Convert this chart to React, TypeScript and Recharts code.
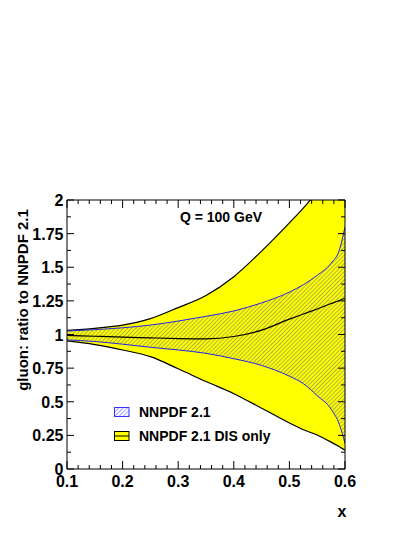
import React from 'react';
import { ComposedChart, Area, Line, XAxis, YAxis } from 'recharts';

// x values of the sampled curves
const xValues = [0.1, 0.15, 0.2, 0.25, 0.3, 0.35, 0.4, 0.45, 0.5, 0.525, 0.55, 0.575, 0.59, 0.6];
// NNPDF 2.1 DIS only band (yellow)
const disUpper = [1.03, 1.046, 1.07, 1.118, 1.2, 1.29, 1.43, 1.62, 1.83, 1.94, 2.06, 2.19, 2.27, 2.32];
const disLower = [0.952, 0.925, 0.885, 0.835, 0.745, 0.65, 0.56, 0.452, 0.342, 0.292, 0.253, 0.2, 0.165, 0.14];
const disCentral = [0.994, 0.987, 0.98, 0.975, 0.97, 0.968, 0.985, 1.032, 1.114, 1.152, 1.19, 1.23, 1.253, 1.27];
// NNPDF 2.1 band (hatched)
const nnUpper = [1.026, 1.036, 1.05, 1.07, 1.1, 1.135, 1.175, 1.235, 1.315, 1.37, 1.44, 1.53, 1.63, 1.8];
const nnLower = [0.96, 0.948, 0.928, 0.905, 0.885, 0.86, 0.82, 0.77, 0.69, 0.635, 0.545, 0.445, 0.33, 0.19];

const xMajorTicks = [0.1, 0.2, 0.3, 0.4, 0.5, 0.6];
const xMinorTicks = [0.12, 0.14, 0.16, 0.18, 0.22, 0.24, 0.26, 0.28, 0.32, 0.34, 0.36, 0.38, 0.42, 0.44, 0.46, 0.48, 0.52, 0.54, 0.56, 0.58];
const yMajorTicks = [0, 0.25, 0.5, 0.75, 1, 1.25, 1.5, 1.75, 2];
const yMinorTicks = [0.125, 0.375, 0.625, 0.875, 1.125, 1.375, 1.625, 1.875];

const xAllTicks = [...xMajorTicks, ...xMinorTicks];
const yAllTicks = [...yMajorTicks, ...yMinorTicks];

const data = xValues.map((x, i) => ({
  x,
  dis: [disLower[i], disUpper[i]],
  nn: [nnLower[i], nnUpper[i]],
  central: disCentral[i],
}));

const FONT = '"Liberation Sans", Arial, Helvetica, sans-serif';

// ROOT style ticks: drawn inward, major longer than minor
const makeTick = (side: 'bottom' | 'top' | 'left' | 'right', majors: number[]) => (props: any) => {
  const { x, y, payload } = props;
  const isMajor = majors.includes(payload.value);
  const len = isMajor ? (side === 'left' || side === 'right' ? 7 : 8) : 4;
  let line;
  if (side === 'bottom') line = <line x1={x} x2={x} y1={y} y2={y - len} stroke="#000" />;
  else if (side === 'top') line = <line x1={x} x2={x} y1={y} y2={y + len} stroke="#000" />;
  else if (side === 'left') line = <line x1={x} x2={x + len} y1={y} y2={y} stroke="#000" />;
  else line = <line x1={x} x2={x - len} y1={y} y2={y} stroke="#000" />;
  let label = null;
  if (isMajor && side === 'bottom') {
    label = (
      <text x={x} y={y + 18} textAnchor="middle" style={{ fontFamily: FONT, fontSize: 16, fontWeight: 'bold' }}>
        {payload.value}
      </text>
    );
  } else if (isMajor && side === 'left') {
    label = (
      <text x={x - 3.5} y={y + 6} textAnchor="end" style={{ fontFamily: FONT, fontSize: 16, fontWeight: 'bold' }}>
        {payload.value}
      </text>
    );
  }
  return (
    <g>
      {line}
      {label}
    </g>
  );
};

const App: React.FC = () => {
  return (
    <div style={{ position: 'absolute', left: 0, top: 0, width: 415, height: 537, background: '#fff' }}>
      <ComposedChart width={415} height={537} data={data} margin={{ top: 199, right: 69, bottom: 28, left: 7 }}>
        <defs>
          <pattern id="hatch" patternUnits="userSpaceOnUse" width="2.9" height="2.9" patternTransform="rotate(45)">
            <line x1="0" y1="0" x2="0" y2="2.9" stroke="#55559a" strokeWidth="0.9" />
          </pattern>
        </defs>
        <XAxis
          xAxisId="main"
          dataKey="x"
          type="number"
          domain={[0.1, 0.6]}
          allowDataOverflow
          ticks={xAllTicks}
          height={40}
          tickSize={0}
          tickMargin={0}
          stroke="#000"
          tick={makeTick('bottom', xMajorTicks)}
          interval={0}
        />
        <XAxis xAxisId="top" orientation="top" dataKey="x" type="number" domain={[0.1, 0.6]} allowDataOverflow
          ticks={xAllTicks} height={1} tickSize={0} tickMargin={0} tick={makeTick('top', xMajorTicks)} stroke="#000"
          interval={0} />
        <YAxis
          yAxisId="main"
          type="number"
          domain={[0, 2]}
          allowDataOverflow
          ticks={yAllTicks}
          width={60}
          tickSize={0}
          tickMargin={0}
          stroke="#000"
          tick={makeTick('left', yMajorTicks)}
          interval={0}
        />
        <YAxis yAxisId="right" orientation="right" type="number" domain={[0, 2]} allowDataOverflow ticks={yAllTicks}
          width={1} tickSize={0} tickMargin={0} tick={makeTick('right', yMajorTicks)} stroke="#000" interval={0} />
        <Area
          xAxisId="main"
          yAxisId="main"
          type="monotone"
          dataKey="dis"
          fill="#ffff00"
          fillOpacity={1}
          stroke="#000"
          strokeWidth={1.2}
          isAnimationActive={false}
        />
        <Area
          xAxisId="main"
          yAxisId="main"
          type="monotone"
          dataKey="nn"
          fill="url(#hatch)"
          fillOpacity={1}
          stroke="#2222ee"
          strokeWidth={1}
          isAnimationActive={false}
        />
        <Line
          xAxisId="main"
          yAxisId="main"
          type="monotone"
          dataKey="central"
          stroke="#000"
          strokeWidth={1.2}
          dot={false}
          isAnimationActive={false}
        />
        {/* invisible series so the frame axes get a proper scale */}
        <Line
          xAxisId="top"
          yAxisId="right"
          dataKey="central"
          stroke="none"
          dot={false}
          activeDot={false}
          isAnimationActive={false}
        />
      </ComposedChart>
      <svg width={415} height={537} style={{ position: 'absolute', left: 0, top: 0, pointerEvents: 'none' }}>
        <defs>
          <pattern id="hatchLegend" patternUnits="userSpaceOnUse" width="3" height="3" patternTransform="rotate(45)">
            <line x1="0" y1="0" x2="0" y2="3" stroke="#3333ff" strokeWidth="0.9" />
          </pattern>
        </defs>
        <text x={221} y={216.5} textAnchor="middle" dominantBaseline="central"
          style={{ fontFamily: FONT, fontSize: 14, fontWeight: 'bold' }}>Q = 100 GeV</text>
        <text x={342} y={511.5} textAnchor="middle" dominantBaseline="central"
          style={{ fontFamily: FONT, fontSize: 16, fontWeight: 'bold' }}>x</text>
        <text transform="translate(22,300) rotate(-90)" textAnchor="middle" dominantBaseline="central"
          style={{ fontFamily: FONT, fontSize: 15, fontWeight: 'bold' }}>gluon: ratio to NNPDF 2.1</text>
        <rect x={114.5} y={407.5} width={14.5} height={9} fill="url(#hatchLegend)" stroke="#3333ff" strokeWidth={1} />
        <text x={139} y={412} dominantBaseline="central" style={{ fontFamily: FONT, fontSize: 14, fontWeight: 'bold' }}>NNPDF 2.1</text>
        <rect x={114.5} y={431.5} width={14.5} height={9} fill="#ffff00" stroke="#000" strokeWidth={1} />
        <line x1={114.5} x2={129} y1={436} y2={436} stroke="#000" strokeWidth={1} />
        <text x={139} y={436} dominantBaseline="central" style={{ fontFamily: FONT, fontSize: 14, fontWeight: 'bold' }}>NNPDF 2.1 DIS only</text>
      </svg>
    </div>
  );
};

export default App;
